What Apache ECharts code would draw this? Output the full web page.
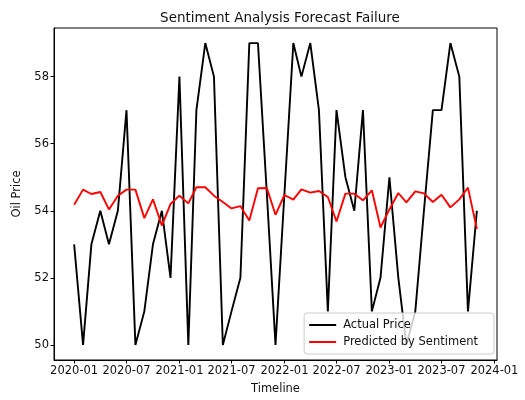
<!DOCTYPE html>
<html>
<head>
<meta charset="utf-8">
<script src="https://cdn.jsdelivr.net/npm/echarts@6/dist/echarts.min.js"></script>
<style>html,body{margin:0;padding:0;background:#fff}#c{width:525px;height:400px}</style>
</head>
<body>
<div id="c"></div>
<script>
// ---- data ----
const months = ["2020-01","2020-02","2020-03","2020-04","2020-05","2020-06","2020-07","2020-08","2020-09","2020-10","2020-11","2020-12",
"2021-01","2021-02","2021-03","2021-04","2021-05","2021-06","2021-07","2021-08","2021-09","2021-10","2021-11","2021-12",
"2022-01","2022-02","2022-03","2022-04","2022-05","2022-06","2022-07","2022-08","2022-09","2022-10","2022-11","2022-12",
"2023-01","2023-02","2023-03","2023-04","2023-05","2023-06","2023-07","2023-08","2023-09","2023-10","2023-11"];
const actualPrice = [53,50,53,54,53,54,57,50,51,53,54,52,
58,50,57,59,58,50,51,52,59,59,54.5,50,
54.5,59,58,59,57,51,57,55,54,57,51,52,
55,52,50,51,54,57,57,59,58,51,54];
const predictedBySentiment = [54.18,54.63,54.5,54.56,54.04,54.45,54.63,54.63,53.78,54.34,53.56,54.2,
54.45,54.22,54.7,54.7,54.45,54.26,54.07,54.14,53.71,54.67,54.68,53.88,
54.47,54.33,54.64,54.54,54.59,54.41,53.68,54.51,54.51,54.31,54.61,53.5,
54.04,54.53,54.25,54.58,54.52,54.26,54.48,54.1,54.34,54.69,53.46];
const xTickLabels = ["2020-01","2020-07","2021-01","2021-07","2022-01","2022-07","2023-01","2023-07","2024-01"];
const yTickLabels = [50,52,54,56,58];

// ---- helpers ----
function ts(s){ const p = s.split('-'); return Date.UTC(+p[0], +p[1]-1, 1); }
function fmt(v){ const d = new Date(v); return d.getUTCFullYear() + '-' + String(d.getUTCMonth()+1).padStart(2,'0'); }
const xTicks = xTickLabels.map(ts);
const first = ts(months[0]), last = ts(months[months.length-1]);
const pad = (last - first) * 0.05;
const font = 'DejaVu Sans';

const chart = echarts.init(document.getElementById('c'), null, {renderer:'canvas'});
chart.setOption({
  animation: false,
  backgroundColor: '#fff',
  title: {
    text: 'Sentiment Analysis Forecast Failure',
    left: 275, top: 6, textAlign: 'center',
    textStyle: {fontFamily: font, fontSize: 13.5, fontWeight: 'normal', color: '#111'}
  },
  grid: {left: 54, right: 28, top: 28, bottom: 37, show: true, borderColor: '#000', borderWidth: 1, backgroundColor: 'transparent'},
  legend: {
    orient: 'vertical', right: 31, bottom: 46,
    data: ['Actual Price', 'Predicted by Sentiment'],
    icon: 'rect', itemWidth: 27, itemHeight: 2, itemGap: 5,
    padding: [6, 16, 6, 5],
    backgroundColor: 'rgba(255,255,255,0.8)', borderColor: '#ccc', borderWidth: 1, borderRadius: 3,
    textStyle: {fontFamily: font, fontSize: 11.5, color: '#111', padding: [0,0,0,2]}
  },
  xAxis: {
    type: 'value', min: first - pad, max: last + pad,
    name: 'Timeline', nameLocation: 'middle', nameGap: 23,
    nameTextStyle: {fontFamily: font, fontSize: 11.5, color: '#111'},
    axisLine: {show: true, onZero: false, lineStyle: {color: '#000', width: 1}},
    axisTick: {show: true, length: 3.5, lineStyle: {color: '#000'}, customValues: xTicks},
    axisLabel: {show: true, customValues: xTicks, formatter: fmt, margin: 5, fontFamily: font, fontSize: 11.5, color: '#111', hideOverlap: false},
    splitLine: {show: false}
  },
  yAxis: {
    type: 'value', min: 49.55, max: 59.45,
    name: 'Oil Price', nameLocation: 'middle', nameGap: 31,
    nameTextStyle: {fontFamily: font, fontSize: 11.5, color: '#111'},
    axisLine: {show: true, onZero: false, lineStyle: {color: '#000', width: 1}},
    axisTick: {show: true, length: 3.5, lineStyle: {color: '#000'}, customValues: yTickLabels},
    axisLabel: {show: true, customValues: yTickLabels, margin: 5, fontFamily: font, fontSize: 11.5, color: '#111'},
    splitLine: {show: false}
  },
  series: [
    {name: 'Actual Price', type: 'line', showSymbol: false, symbol: 'none',
     data: months.map((m,i) => [ts(m), actualPrice[i]]),
     lineStyle: {color: '#000', width: 1.9}, itemStyle: {color: '#000'}},
    {name: 'Predicted by Sentiment', type: 'line', showSymbol: false, symbol: 'none',
     data: months.map((m,i) => [ts(m), predictedBySentiment[i]]),
     lineStyle: {color: '#ff0000', width: 1.9}, itemStyle: {color: '#ff0000'}}
  ]
});
</script>
</body>
</html>
